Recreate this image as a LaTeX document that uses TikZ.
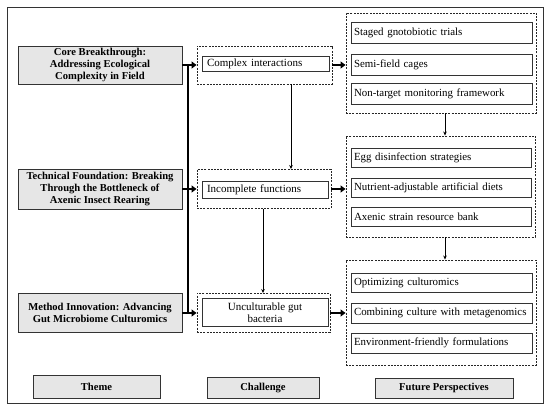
\documentclass[tikz,border=0pt]{standalone}
\usepackage{fontspec}
\setmainfont{Liberation Serif}
\usetikzlibrary{arrows.meta}
\definecolor{boxgray}{HTML}{E6E6E6}
\begin{document}
\begin{tikzpicture}[x=1pt,y=-1pt,
  theme/.style={draw=black!80,line width=0.6pt,fill=boxgray,font=\fontsize{10.6}{12.2}\selectfont\bfseries,align=center,inner sep=1pt},
  dbox/.style={draw=black!85,line width=0.9pt,dash pattern=on 2pt off 1.2pt},
  ibox/.style={draw=black!80,line width=0.6pt,font=\fontsize{10.9}{12.5}\selectfont,align=left,inner xsep=3pt,inner ysep=0pt},
  cbox/.style={draw=black!80,line width=0.6pt,font=\fontsize{11}{12.5}\selectfont,align=center,inner sep=0pt},
  bus/.style={line width=2.6pt},
  busarrow/.style={line width=2.6pt,-{Triangle[length=5pt,width=7pt]}},
  tarrow/.style={line width=0.6pt,-{Stealth[length=4pt,width=3.5pt]}}
]
\useasboundingbox (0,0) rectangle (550,411);
\draw[draw=black!80,line width=0.8pt] (7,7) rectangle (543,403);

% Theme column
\node[theme,minimum width=164pt,minimum height=38pt] (t1) at (100,65) {Core Breakthrough:\\Addressing Ecological\\Complexity in Field};
\node[theme,minimum width=164pt,minimum height=40pt] (t2) at (100,189) {Technical Foundation: Breaking\\Through the Bottleneck of\\Axenic Insect Rearing};
\node[theme,minimum width=164pt,minimum height=39pt] (t3) at (100,313) {Method Innovation: Advancing\\Gut Microbiome Culturomics};
\node[theme,minimum width=127pt,minimum height=23pt] (tl) at (96.5,386.5) {Theme};

% Challenge column
\node[dbox,minimum width=135pt,minimum height=38pt] (c1) at (264.5,65) {};
\node[ibox,font=\fontsize{11}{12.5}\selectfont,inner xsep=5pt,minimum width=127pt,minimum height=15pt,text width=117pt] (c1i) at (265.5,64) {Complex interactions};
\node[dbox,minimum width=134pt,minimum height=39pt] (c2) at (264,189) {};
\node[ibox,font=\fontsize{11}{12.5}\selectfont,inner xsep=5pt,minimum width=126pt,minimum height=17pt,text width=116pt] (c2i) at (265,189.5) {Incomplete functions};
\node[dbox,minimum width=133pt,minimum height=39pt] (c3) at (263.5,313) {};
\node[cbox,minimum width=126pt,minimum height=28pt] (c3i) at (265,312.5) {Unculturable gut\\bacteria};
\node[theme,minimum width=112pt,minimum height=21pt] (cl) at (263,387.5) {Challenge};

% Perspectives column
\node[dbox,minimum width=190pt,minimum height=100pt] (p1) at (441,63) {};
\node[ibox,minimum width=181pt,minimum height=21pt,text width=175pt] (p11) at (441.5,32.5) {Staged gnotobiotic trials};
\node[ibox,minimum width=181pt,minimum height=21pt,text width=175pt] (p12) at (441.5,64.5) {Semi-field cages};
\node[ibox,minimum width=181pt,minimum height=21pt,text width=175pt] (p13) at (441.5,93.5) {Non-target monitoring framework};

\node[dbox,minimum width=189pt,minimum height=101pt] (p2) at (440.5,186.5) {};
\node[ibox,minimum width=180pt,minimum height=19pt,text width=174pt] (p21) at (441,157.5) {Egg disinfection strategies};
\node[ibox,minimum width=180pt,minimum height=19pt,text width=174pt] (p22) at (441,187.5) {Nutrient-adjustable artificial diets};
\node[ibox,minimum width=180pt,minimum height=19pt,text width=174pt] (p23) at (441,216.5) {Axenic strain resource bank};

\node[dbox,minimum width=190pt,minimum height=105pt] (p3) at (441,312.5) {};
\node[ibox,minimum width=181pt,minimum height=19pt,text width=175pt] (p31) at (441.5,282.5) {Optimizing culturomics};
\node[ibox,minimum width=181pt,minimum height=20pt,text width=175pt] (p32) at (441.5,313) {\mbox{Combining culture with metagenomics}};
\node[ibox,minimum width=181pt,minimum height=20pt,text width=175pt] (p33) at (441.5,343) {Environment-friendly formulations};
\node[theme,minimum width=138pt,minimum height=20pt] (pl) at (444,388) {Future Perspectives};

% Bus connectors
\coordinate (bx) at (188,0);
\draw[bus] (t1.east -| bx) -- (t3.east -| bx);
\draw[busarrow] (t1.east) -- (c1.west);
\draw[busarrow] (t2.east) -- (c2.west);
\draw[busarrow] (t3.east) -- (c3.west);

% Challenge to perspectives
\draw[busarrow] (c1.east) -- (c1.east -| p1.west);
\draw[busarrow] (c2.east) -- (c2.east -| p2.west);
\draw[busarrow] (c3.east) -- (c3.east -| p3.west);

% Thin vertical arrows
\coordinate (xa) at (291,0);
\coordinate (xb) at (263,0);
\coordinate (xp) at (445,0);
\draw[tarrow] (c1.south -| xa) -- (c2.north -| xa);
\draw[tarrow] (c2.south -| xb) -- (c3.north -| xb);
\draw[tarrow] (p1.south -| xp) -- (p2.north -| xp);
\draw[tarrow] (p2.south -| xp) -- (p3.north -| xp);
\end{tikzpicture}
\end{document}
